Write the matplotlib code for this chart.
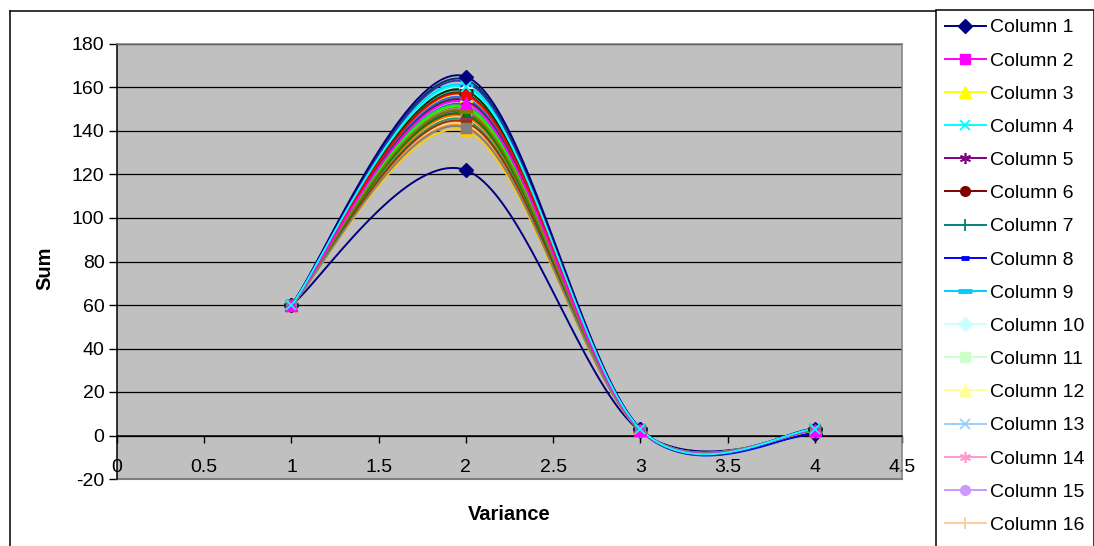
import numpy as np
import matplotlib.pyplot as plt
from matplotlib.lines import Line2D

plt.rcParams['font.family'] = ['Liberation Sans', 'DejaVu Sans']
plt.rcParams['axes.unicode_minus'] = False

# data: every series has points at variance 1, 2, 3, 4
variance = [1, 2, 3, 4]
names = ['Column %d' % (i + 1) for i in range(40)]
sum_at_1 = [60] * 40
sum_at_2 = [122, 153.5, 156, 161, 150, 147, 158, 152, 160.5, 159.5,
            149, 146, 152.5, 154.5, 148, 143, 155, 157.5, 150.5, 140,
            142, 146.5, 151.5, 149.5, 163.5, 145, 158.5, 157, 144, 148.5,
            162.5, 154, 156.5, 151, 147.5, 149, 165, 141.5, 153, 160]
sum_at_3 = [2.0, 2.5, 2.8, 3.0, 2.6, 2.4, 2.9, 2.2, 3.1, 3.0,
            2.7, 2.5, 2.6, 2.8, 2.4, 2.3, 2.9, 2.7, 2.5, 2.3,
            2.4, 2.6, 2.8, 2.5, 3.1, 2.6, 2.9, 2.8, 2.5, 2.6,
            3.0, 2.7, 2.8, 2.6, 2.5, 2.6, 3.2, 2.4, 2.7, 3.0]
sum_at_4 = [0.5, 2.6, 2.8, 2.9, 2.5, 2.2, 2.7, 1.2, 3.0, 2.9,
            2.6, 2.4, 2.5, 2.7, 2.3, 2.1, 2.8, 2.6, 2.4, 2.0,
            2.2, 2.5, 2.7, 2.4, 3.0, 2.5, 2.8, 2.7, 2.3, 2.5,
            2.9, 2.6, 2.7, 2.5, 2.4, 2.5, 3.1, 2.2, 2.6, 2.9]

colors = ['#000080', '#FF00FF', '#FFFF00', '#00FFFF', '#800080', '#800000', '#008080', '#0000FF',
          '#00CCFF', '#CCFFFF', '#CCFFCC', '#FFFF99', '#99CCFF', '#FF99CC', '#CC99FF', '#FFCC99',
          '#3366FF', '#33CCCC', '#99CC00', '#FFCC00', '#FF9900', '#FF6600', '#666699', '#969696',
          '#003366', '#339966', '#003300', '#333300', '#993300', '#993366', '#333399', '#333333',
          '#FF0000', '#00FF00', '#008000', '#808000', '#000080', '#808080', '#FF00FF', '#00FFFF']
# excel marker cycle: diamond, square, triangle, x, star, circle, plus, short dash, long dash
markers = [('D', 7, 1), ('s', 6.5, 1), ('^', 8, 1), ('x', 7, 1.3), ((6, 2, 0), 8, 1.2),
           ('o', 7, 1), ('|', 9, 1.3), ('_', 6, 3.5), ('_', 10, 3.5)]
legend_rows = 16  # only these fit on the chart, the box runs on past the bottom


def excel_smooth(xs, ys, n=40):
    pts = np.column_stack([xs, ys]).astype(float)
    ext = np.vstack([pts[0], pts, pts[-1]])
    t = np.linspace(0, 1, n)[:, None]
    out = []
    for i in range(len(pts) - 1):
        p0, p1, p2, p3 = ext[i], ext[i + 1], ext[i + 2], ext[i + 3]
        c1 = p1 + (p2 - p0) / 6
        c2 = p2 - (p3 - p1) / 6
        seg = (1 - t) ** 3 * p1 + 3 * (1 - t) ** 2 * t * c1 + 3 * (1 - t) * t ** 2 * c2 + t ** 3 * p2
        out.append(seg if i == 0 else seg[1:])
    return np.vstack(out)


fig = plt.figure(figsize=(10.94, 5.46), dpi=100)
ax = fig.add_axes([117 / 1094, 1 - 479 / 546, 785 / 1094, 435 / 546])
ax.set_facecolor('#C0C0C0')

handles = []
for i in range(len(names)):
    ys = [sum_at_1[i], sum_at_2[i], sum_at_3[i], sum_at_4[i]]
    curve = excel_smooth(variance, ys)
    m, ms, mew = markers[i % 9]
    c = colors[i]
    ax.plot(curve[:, 0], curve[:, 1], color=c, lw=1.4, zorder=3)
    ax.plot(variance, ys, ls='none', marker=m, ms=ms, mew=mew, color=c, mfc=c, mec=c, zorder=4)
    handles.append(Line2D([], [], color=c, lw=1.4, marker=m, ms=ms, mew=mew, mfc=c, mec=c))

ax.set_xlim(0, 4.5)
ax.set_ylim(-20, 180)
ax.set_xticks(np.arange(0, 4.51, 0.5))
ax.set_xticklabels(['0', '0.5', '1', '1.5', '2', '2.5', '3', '3.5', '4', '4.5'])
ax.set_yticks(np.arange(-20, 181, 20))
ax.yaxis.grid(True, color='black', lw=0.9)
ax.set_axisbelow(True)

ax.spines['bottom'].set_position(('data', 0))
ax.spines['bottom'].set_color('black')
ax.spines['left'].set_color('black')
ax.spines['top'].set_color('#808080')
ax.spines['right'].set_color('#808080')
for s in ax.spines.values():
    s.set_linewidth(1.1)
    s.set_zorder(2)
ax.axhline(-20, color='#808080', lw=1.5, clip_on=False)

ax.tick_params(axis='x', direction='out', length=5, pad=12, labelsize=14, width=1)
ax.tick_params(axis='y', direction='out', length=6, pad=3, labelsize=14, width=1)

ax.set_xlabel('Variance', fontsize=14.5, fontweight='bold', va='center')
ax.xaxis.set_label_coords(0.5, (479 - 515) / 435)
ax.set_ylabel('Sum', fontsize=14.5, fontweight='bold', va='center', ha='center')
ax.yaxis.set_label_coords((45 - 117) / 785, (479 - 268) / 435)

# blank rows keep the legend box running past the bottom edge
spacer = [Line2D([], [], ls='none') for _ in range(2)]
leg = fig.legend(handles[:legend_rows] + spacer, names[:legend_rows] + [' ', ' '], loc='upper left',
                 bbox_to_anchor=(936 / 1094, 1 - 10 / 546), bbox_transform=fig.transFigure,
                 frameon=True, fancybox=False, edgecolor='black', framealpha=1,
                 borderaxespad=0, borderpad=0.45, handlelength=2.1, handletextpad=0.25,
                 labelspacing=0.8, fontsize=14)
leg.get_frame().set_linewidth(1.1)

# outer chart border
fig.add_artist(Line2D([9.5 / 1094, 1], [1 - 10.5 / 546, 1 - 10.5 / 546], color='black', lw=1.1))
fig.add_artist(Line2D([9.5 / 1094, 9.5 / 1094], [1 - 10.5 / 546, 0], color='black', lw=1.1))

fig.savefig('out.png', dpi=100)
